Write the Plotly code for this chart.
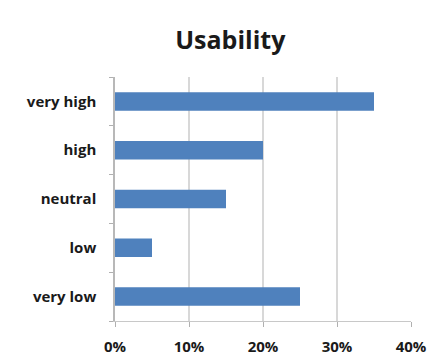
import plotly.graph_objects as go

# Usability ratings, listed bottom-to-top as drawn on the category axis
categories = ["very low", "low", "neutral", "high", "very high"]
shares = [0.25, 0.05, 0.15, 0.20, 0.35]
x_ticks = [0, 0.1, 0.2, 0.3, 0.4]
x_tick_labels = ["0%", "10%", "20%", "30%", "40%"]

bar_color = "#4F81BD"
font_family = "'Open Sans', 'Liberation Sans', Arial, sans-serif"

fig = go.Figure(
    go.Bar(
        x=shares,
        y=categories,
        orientation="h",
        marker=dict(color=bar_color, line=dict(width=0)),
        hoverinfo="skip",
    )
)

fig.update_layout(
    width=437,
    height=363,
    margin=dict(l=115, r=26, t=77, b=42),
    paper_bgcolor="white",
    plot_bgcolor="white",
    bargap=0.62,
    showlegend=False,
    title=dict(
        text="<b>Usability</b>",
        x=0.527,
        xanchor="center",
        y=1 - 40 / 363,
        yanchor="middle",
        font=dict(family=font_family, size=25, color="#1a1a1a"),
    ),
    font=dict(family=font_family, size=15, color="#1a1a1a"),
)

fig.update_xaxes(
    range=[0, 0.4],
    tickvals=x_ticks,
    ticktext=[f"<b>{t}</b>" for t in x_tick_labels],
    showgrid=True,
    gridcolor="#D8D8D8",
    gridwidth=1.5,
    zeroline=False,
    showline=True,
    linecolor="#C8C8C8",
    linewidth=1,
    ticks="outside",
    ticklen=5,
    tickcolor="#B0B0B0",
    ticklabelstandoff=7,
    tickfont=dict(size=15),
    automargin=False,
    fixedrange=True,
)

fig.update_yaxes(
    categoryorder="array",
    categoryarray=categories,
    tickvals=categories,
    ticktext=[f"<b>{c}</b>" for c in categories],
    tickson="boundaries",
    ticks="outside",
    ticklen=4,
    tickcolor="#B0B0B0",
    showline=True,
    linecolor="#B8B8B8",
    linewidth=1.5,
    showgrid=False,
    ticklabelstandoff=14,
    tickfont=dict(size=15),
    automargin=False,
    fixedrange=True,
)

fig.write_html("out.html")
